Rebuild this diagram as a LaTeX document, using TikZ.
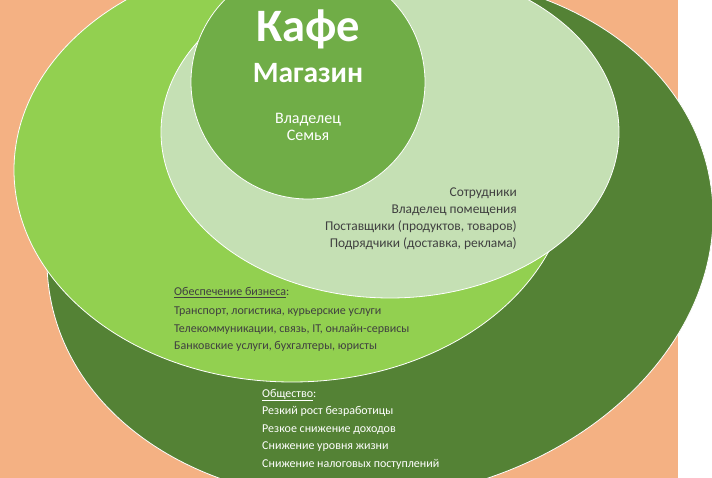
\documentclass[tikz,border=0pt]{standalone}
\usepackage{fontspec}
\setmainfont{Carlito}
\definecolor{fubryt}{RGB}{244,177,131}
\definecolor{vuystv}{RGB}{84,130,53}
\definecolor{zsdqvq}{RGB}{146,208,80}
\definecolor{cveqbu}{RGB}{197,224,180}
\definecolor{xqadux}{RGB}{112,173,71}
\definecolor{uququq}{RGB}{64,64,64}

\begin{document}
\begin{tikzpicture}[x=1pt,y=-1pt,node font = \small,inner sep=0pt]
			\useasboundingbox (0,0) rectangle (712,478);
			\clip (0,0) rectangle (712,478);
			\fill [color=white] (0,0) rectangle (712,478);
			\fill [color=fubryt] (0,0) rectangle (678,478);
			\draw [color=white,line width=0.8pt,fill=vuystv,rotate around={10:(380,238)}] (380,238) ellipse [x radius=335pt, y radius=260pt];
			\draw [color=white,line width=0.8pt,fill=zsdqvq] (292,170) ellipse [x radius=278pt, y radius=212pt];
			\draw [color=white,line width=0.8pt,fill=cveqbu] (390,132) ellipse [x radius=229pt, y radius=166pt];
			\draw [color=white,line width=0.8pt,fill=xqadux] (308,82) circle (117pt);
			\node [anchor=base,text=white,font=\bfseries\fontsize{46.5}{54}\selectfont] (kafe) at (308,42) {Кафе};
			\node [anchor=base,text=white,font=\bfseries\fontsize{29.5}{34}\selectfont] (magazin) at (308,83) {Магазин};
			\node [anchor=base,text=white,font=\fontsize{16}{19}\selectfont] (vladelec) at (308,124) {Владелец};
			\node [anchor=base,text=white,font=\fontsize{16}{19}\selectfont] (semya) at (308,141) {Семья};
			\node [anchor=base east,text=uququq,font=\fontsize{13.4}{16}\selectfont] (sotr) at (517,197) {Сотрудники};
			\node [anchor=base east,text=uququq,font=\fontsize{13.4}{16}\selectfont] (pomesh) at (517,214) {Владелец помещения};
			\node [anchor=base east,text=uququq,font=\fontsize{13.4}{16}\selectfont] (postav) at (517,231) {Поставщики (продуктов, товаров)};
			\node [anchor=base east,text=uququq,font=\fontsize{13.4}{16}\selectfont] (podr) at (517,248) {Подрядчики (доставка, реклама)};
			\node [anchor=base west,text=uququq,font=\fontsize{12}{15}\selectfont] (biz) at (174,296) {\underline{Обеспечение бизнеса}:};
			\node [anchor=base west,text=uququq,font=\fontsize{12}{15}\selectfont] (transp) at (174,314) {Транспорт, логистика, курьерские услуги};
			\node [anchor=base west,text=uququq,font=\fontsize{12}{15}\selectfont] (telecom) at (174,332) {Телекоммуникации, связь, IT, онлайн-сервисы};
			\node [anchor=base west,text=uququq,font=\fontsize{12}{15}\selectfont] (bank) at (174,349) {Банковские услуги, бухгалтеры, юристы};
			\node [anchor=base west,text=white,font=\fontsize{12}{14}\selectfont] (obsh) at (262,397) {\underline{Общество}:};
			\node [anchor=base west,text=white,font=\fontsize{12}{14}\selectfont] (bezrab) at (262,414) {Резкий рост безработицы};
			\node [anchor=base west,text=white,font=\fontsize{12}{14}\selectfont] (dohod) at (262,432) {Резкое снижение доходов};
			\node [anchor=base west,text=white,font=\fontsize{12}{14}\selectfont] (zhizn) at (262,449) {Снижение уровня жизни};
			\node [anchor=base west,text=white,font=\fontsize{12}{14}\selectfont] (nalog) at (262,467) {Снижение налоговых поступлений};
		\end{tikzpicture}
\end{document}
